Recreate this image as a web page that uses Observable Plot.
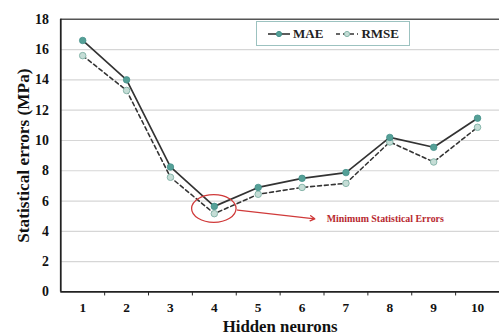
<!DOCTYPE html>
<html><head><meta charset="utf-8">
<script src="https://cdn.jsdelivr.net/npm/d3@7"></script>
<script src="https://cdn.jsdelivr.net/npm/@observablehq/plot@0.6"></script>
<style>
html,body{margin:0;padding:0;background:#fff;overflow:hidden;width:499px;height:336px}
#wrap{position:relative;width:499px;height:336px}
#legend{position:absolute;left:256px;top:21px;width:154px;height:25px;border:1.5px solid #9cc2c0;box-sizing:border-box;font:bold 13px "Liberation Serif",serif;color:#222;display:flex;align-items:center;justify-content:center;gap:12px;background:#fff}
#legend span{display:flex;align-items:center;gap:2px}
</style></head><body><div id="wrap"><div id="legend"></div></div>
<script>
const neurons = [1,2,3,4,5,6,7,8,9,10];
const mae  = [16.6,14.0,8.25,5.65,6.9,7.5,7.88,10.2,9.55,11.47];
const rmse = [15.6,13.3,7.57,5.17,6.45,6.9,7.17,9.9,8.58,10.87];
const yTicks = [0,2,4,6,8,10,12,14,16,18];
const seriesNames = ["MAE","RMSE"];
const annotText = ["Minimum Statistical Errors"];
const annotEllipse = [{x:4.0,y:5.48}];
const annotArrow = [{x1:4.53,y1:5.41,x2:6.29,y2:4.83}];
const annotLabel = [{x:6.56,y:4.83}];

const rows = [];
neurons.forEach((n,i)=>{rows.push({n,v:mae[i],s:"MAE"});rows.push({n,v:rmse[i],s:"RMSE"});});
const bounds = neurons.slice(0,-1).map(n=>n+0.5);
const font = '"Liberation Serif", "Times New Roman", serif';

const ellipse = (data)=> (index, scales, values, dims, ctx) => {
  const g = d3.create("svg:g");
  for (const d of data) {
    g.append("ellipse").attr("cx", scales.x(d.x)).attr("cy", scales.y(d.y))
     .attr("rx", 22.5).attr("ry", 14).attr("fill","none").attr("stroke","#d03a3a").attr("stroke-width",1.3);
  }
  return g.node();
};

const chart = Plot.plot({
  width: 505, height: 336,
  marginLeft: 61, marginRight: 0, marginTop: 19, marginBottom: 41,
  style: {fontFamily: font, background: "#fff", overflow: "visible"},
  x: {domain: [0.5, 10.5], label: null},
  y: {domain: [0, 18], label: null},
  marks: [
    Plot.ruleY(yTicks.filter(t=>t>0 && t<18), {stroke: "#d6d6d6", strokeWidth: 1.2}),
    Plot.ruleY([18], {stroke: "#555", strokeWidth: 1.6}),
    Plot.axisY({ticks: yTicks, tickSize: 0, tickPadding: 12, fontSize: 14, fontWeight: "bold", fill: "#111", label: null}),
    Plot.axisX({ticks: neurons, tickSize: 0, tickPadding: 11, fontSize: 13.5, fontWeight: "bold", fill: "#111", label: null}),
    Plot.axisX({ticks: bounds, tickSize: 4, tickFormat: () => "", stroke: "#222", label: null}),
    Plot.ruleX([0.5], {stroke: "#222", strokeWidth: 1.8}),
    Plot.ruleY([0], {stroke: "#222", strokeWidth: 1.8}),
    Plot.line(rows.filter(d=>d.s==="RMSE"), {x:"n", y:"v", stroke:"#333", strokeWidth:1.6, strokeDasharray:"4,3"}),
    Plot.line(rows.filter(d=>d.s==="MAE"), {x:"n", y:"v", stroke:"#333", strokeWidth:1.7}),
    Plot.dot(rows.filter(d=>d.s==="RMSE"), {x:"n", y:"v", r:3.3, fill:"#c5ddd6", stroke:"#86b5aa", strokeWidth:1}),
    Plot.dot(rows.filter(d=>d.s==="MAE"), {x:"n", y:"v", r:3.3, fill:"#55a097", stroke:"#43908a", strokeWidth:0.8}),
    ellipse(annotEllipse),
    Plot.arrow(annotArrow, {x1:"x1", y1:"y1", x2:"x2", y2:"y2", stroke:"#d03a3a", strokeWidth:1.3, headLength:6, bend:0}),
    Plot.text(annotLabel, {x:"x", y:"y", text: () => annotText[0], textAnchor:"start", fill:"#b8292f", fontSize:10, fontWeight:"bold"}),
    Plot.text(["Hidden neurons"], {frameAnchor:"bottom", lineAnchor:"bottom", dy:40, text:d=>d, fontSize:17, fontWeight:"bold", fill:"#111"}),
    Plot.text(["Statistical errors (MPa)"], {frameAnchor:"left", textAnchor:"middle", dx:-38, rotate:-90, text:d=>d, fontSize:17.5, fontWeight:"bold", fill:"#111"})
  ]
});
const wrap = document.getElementById("wrap");
wrap.insertBefore(chart, wrap.firstChild);

// legend
const leg = document.getElementById("legend");
seriesNames.forEach((name,i)=>{
  const s = document.createElement("span");
  const svg = d3.create("svg").attr("width",24).attr("height",10);
  svg.append("line").attr("x1",1).attr("x2",23).attr("y1",5).attr("y2",5).attr("stroke","#333").attr("stroke-width",1.6)
     .attr("stroke-dasharray", i===1 ? "4,3" : null);
  svg.append("circle").attr("cx",12).attr("cy",5).attr("r",2.6).attr("fill", i===0?"#55a097":"#c5ddd6").attr("stroke", i===0?"#43908a":"#86b5aa");
  s.appendChild(svg.node());
  const t = document.createElement("b"); t.textContent = name; s.appendChild(t);
  leg.appendChild(s);
});
</script></body></html>
